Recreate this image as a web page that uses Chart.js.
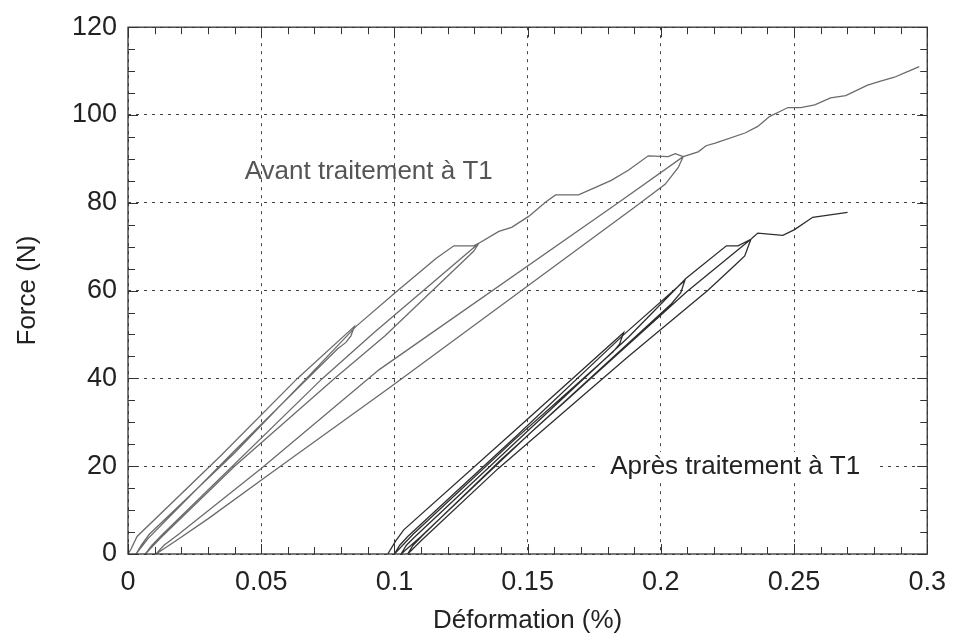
<!DOCTYPE html>
<html>
<head>
<meta charset="utf-8">
<script src="https://cdn.jsdelivr.net/npm/chart.js@4.4.1/dist/chart.umd.min.js"></script>
<style>
  html, body { margin: 0; padding: 0; background: #fff; }
  canvas { display: block; }
</style>
</head>
<body>
<canvas id="chart" width="958" height="644"></canvas>
<script>
// strain (%) / force (N), one continuous path per specimen
const avantStrain = [
  0, 0.0012, 0.0034, 0.035, 0.0636, 0.0849,
  0.0837, 0.0818, 0.0786, 0.04, 0.0075, 0.003,
  0.005, 0.008, 0.04, 0.067, 0.0855, 0.1006, 0.1156, 0.1223, 0.1298, 0.1317,
  0.1298, 0.1272, 0.0965, 0.0775, 0.04, 0.012, 0.0065,
  0.009, 0.013, 0.073, 0.0925, 0.1306, 0.1317, 0.1392, 0.144, 0.1504, 0.1568, 0.1605,
  0.1691, 0.174, 0.1814, 0.1878, 0.1953, 0.2028, 0.2054, 0.2084,
  0.2065, 0.2016, 0.1904, 0.098, 0.055, 0.03, 0.018, 0.0105,
  0.0135, 0.019, 0.05, 0.0943, 0.184, 0.2084, 0.214, 0.217, 0.2204, 0.2316, 0.2364,
  0.2409, 0.2447, 0.2477, 0.2525, 0.2578, 0.2637, 0.2694, 0.2776, 0.2825, 0.2877, 0.2926, 0.297
];
const avantForce = [
  0, 1.2, 4, 22.5, 40, 51.8,
  49.7, 48.2, 46.7, 23.5, 3.5, 0,
  2, 4.5, 23, 40, 51.8, 59.7, 67.3, 70.2, 70.2, 70.8,
  69, 67.5, 49.7, 40, 20, 3.5, 0,
  2, 4.5, 40, 50.5, 70.2, 70.8, 73.5, 74.4, 76.9, 80.2, 81.8,
  81.8, 83.1, 85.1, 87.4, 90.7, 90.5, 91.2, 90.5,
  88, 84.2, 79.1, 37.8, 19, 8, 3, 0,
  2, 4.5, 19.5, 42, 80, 90.5, 91.6, 93, 93.6, 95.9, 97.4,
  99.7, 100.8, 101.7, 101.7, 102.3, 103.9, 104.4, 106.8, 107.7, 108.6, 109.9, 111
];

const apresStrain = [
  0.0975, 0.1005, 0.1035, 0.145, 0.186,
  0.1845, 0.182, 0.145, 0.107, 0.1,
  0.102, 0.105, 0.146, 0.1865, 0.209,
  0.2075, 0.204, 0.15, 0.11, 0.1025,
  0.1045, 0.1075, 0.15, 0.188, 0.2095, 0.2246, 0.229, 0.2338,
  0.2315, 0.2277, 0.2177, 0.1878, 0.139, 0.11, 0.105,
  0.107, 0.111, 0.14, 0.2096, 0.2338, 0.2364, 0.2458, 0.2502, 0.257, 0.2701
];
const apresForce = [
  0, 3, 5.5, 28, 50.4,
  47.8, 46, 26, 4.5, 0,
  2, 4, 27, 50.2, 62.3,
  59.5, 57, 27, 4, 0,
  2, 3.8, 28, 49.5, 62.8, 70.2, 70.2, 71.7,
  67.9, 65.7, 60.1, 45, 19.5, 3, 0,
  2, 4.5, 21.5, 59.7, 71.7, 73.1, 72.6, 73.9, 76.7, 77.8
];

const xTickValues = [0, 0.05, 0.1, 0.15, 0.2, 0.25, 0.3];
const xTickLabels = ['0', '0.05', '0.1', '0.15', '0.2', '0.25', '0.3'];
const yTickValues = [0, 20, 40, 60, 80, 100, 120];
const yTickLabels = ['0', '20', '40', '60', '80', '100', '120'];

const noteAvant = { text: 'Avant traitement à T1', x: 0.0438, y: 87 };
const noteApres = { text: 'Après traitement à T1', x: 0.181, y: 19.8 };

const FONT = "'Liberation Sans', Arial, Helvetica, sans-serif";

const toPoints = (xs, ys) => xs.map((v, i) => ({ x: v, y: ys[i] }));

// box, inward minor ticks and the two text notes
const framePlugin = {
  id: 'frame',
  afterDraw(chart) {
    const { ctx, chartArea: a } = chart;
    const xs = chart.scales.x, ys = chart.scales.y;
    ctx.save();
    ctx.strokeStyle = '#333';
    ctx.lineWidth = 1;
    ctx.beginPath();
    for (let i = 0; i <= 30; i++) {
      const px = Math.round(xs.getPixelForValue(i / 100)) + 0.5;
      const len = i % 5 === 0 ? 10 : 7;
      ctx.moveTo(px, a.bottom); ctx.lineTo(px, a.bottom - len);
      ctx.moveTo(px, a.top); ctx.lineTo(px, a.top + len);
    }
    for (let i = 0; i <= 24; i++) {
      const py = Math.round(ys.getPixelForValue(i * 5)) + 0.5;
      const len = i % 4 === 0 ? 10 : 7;
      ctx.moveTo(a.left, py); ctx.lineTo(a.left + len, py);
      ctx.moveTo(a.right, py); ctx.lineTo(a.right - len, py);
    }
    ctx.stroke();
    ctx.lineWidth = 1.3;
    ctx.strokeRect(a.left, a.top, a.right - a.left, a.bottom - a.top);

    ctx.font = '26px ' + FONT;
    ctx.textBaseline = 'middle';
    ctx.textAlign = 'left';

    let px = xs.getPixelForValue(noteAvant.x), py = ys.getPixelForValue(noteAvant.y);
    ctx.fillStyle = '#555';
    ctx.fillText(noteAvant.text, px, py);

    px = xs.getPixelForValue(noteApres.x); py = ys.getPixelForValue(noteApres.y);
    const w = ctx.measureText(noteApres.text).width;
    ctx.fillStyle = '#fff';
    ctx.fillRect(px - 12, py - 15, w + 30, 30);
    ctx.fillStyle = '#222';
    ctx.fillText(noteApres.text, px, py);
    ctx.restore();
  }
};

new Chart(document.getElementById('chart').getContext('2d'), {
  type: 'scatter',
  data: {
    datasets: [
      {
        label: 'Avant traitement à T1',
        data: toPoints(avantStrain, avantForce),
        showLine: true,
        borderColor: '#6b6b6b',
        borderWidth: 1.3,
        pointRadius: 0,
        tension: 0,
      },
      {
        label: 'Après traitement à T1',
        data: toPoints(apresStrain, apresForce),
        showLine: true,
        borderColor: '#2e2e2e',
        borderWidth: 1.3,
        pointRadius: 0,
        tension: 0,
      },
    ],
  },
  options: {
    responsive: false,
    animation: false,
    layout: { padding: { left: 0, right: 26, top: 17, bottom: 0 } },
    plugins: { legend: { display: false }, tooltip: { enabled: false } },
    scales: {
      x: {
        type: 'linear',
        min: 0,
        max: 0.3,
        afterBuildTicks: (s) => { s.ticks = xTickValues.map((v) => ({ value: v })); },
        afterFit: (s) => { s.height = 90; },
        ticks: {
          callback: (v, i) => xTickLabels[i],
          color: '#222',
          font: { family: FONT, size: 27 },
          padding: 12,
          maxRotation: 0,
        },
        grid: { color: '#444', lineWidth: 1, drawTicks: false },
        border: { display: false, dash: [3, 5] },
        title: {
          display: true,
          text: 'Déformation (%)',
          color: '#222',
          font: { family: FONT, size: 26 },
          padding: { top: 0, bottom: 8 },
        },
      },
      y: {
        type: 'linear',
        min: 0,
        max: 120,
        afterBuildTicks: (s) => { s.ticks = yTickValues.map((v) => ({ value: v })); },
        afterFit: (s) => { s.width = 128; },
        ticks: {
          callback: (v, i) => yTickLabels[i],
          color: '#222',
          font: { family: FONT, size: 27 },
          padding: 11,
        },
        grid: { color: '#444', lineWidth: 1, drawTicks: false },
        border: { display: false, dash: [3, 5] },
        title: {
          display: true,
          text: 'Force (N)',
          color: '#222',
          font: { family: FONT, size: 26 },
          padding: { top: 12, bottom: 0 },
        },
      },
    },
  },
  plugins: [framePlugin],
});
</script>
</body>
</html>
